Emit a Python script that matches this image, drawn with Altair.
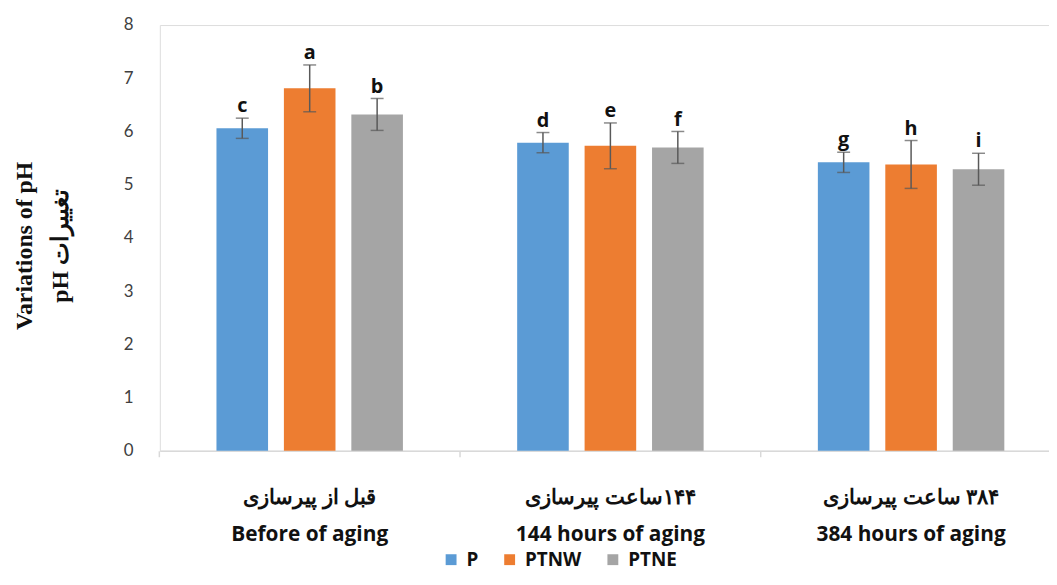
import altair as alt
import pandas as pd

RLM = "\u200f"
groups = ["قبل از پیرسازی|Before of aging",
          RLM + "۱۴۴ساعت پیرسازی|144 hours of aging",
          RLM + "۳۸۴ ساعت پیرسازی|384 hours of aging"]
series = ["P", "PTNW", "PTNE"]
colors = ["#5B9BD5", "#ED7D31", "#A5A5A5"]

p_vals = [6.06, 5.79, 5.42]
p_err = [0.19, 0.19, 0.19]
ptnw_vals = [6.81, 5.73, 5.38]
ptnw_err = [0.44, 0.43, 0.45]
ptne_vals = [6.32, 5.70, 5.29]
ptne_err = [0.30, 0.30, 0.30]
letters_p = ["c", "d", "g"]
letters_ptnw = ["a", "e", "h"]
letters_ptne = ["b", "f", "i"]

rows = []
for s, vals, errs, lets in [("P", p_vals, p_err, letters_p),
                            ("PTNW", ptnw_vals, ptnw_err, letters_ptnw),
                            ("PTNE", ptne_vals, ptne_err, letters_ptne)]:
    for g, v, e, l in zip(groups, vals, errs, lets):
        rows.append({"group": g, "series": s, "value": v,
                     "lo": v - e, "hi": v + e, "letter": l})
df = pd.DataFrame(rows)

x_scale = alt.Scale(paddingInner=0.327, paddingOuter=0.142, align=0.57)
x_enc = alt.X("group:N", sort=groups, scale=x_scale,
              axis=alt.Axis(title=None, labelAngle=0, labelLimit=400,
                            labelExpr="split(datum.label, '|')",
                            labelFont="Open Sans", labelFontSize=21, labelFontWeight="bold",
                            labelColor="#111111", labelLineHeight=37, labelPadding=30,
                            domainColor="#D9D9D9", domainWidth=1.5,
                            tickColor="#D9D9D9", tickSize=6, tickWidth=1.5,
                            bandPosition=-0.241))
xo_enc = alt.XOffset("series:N", sort=series,
                     scale=alt.Scale(paddingInner=0.235, paddingOuter=0.118))

base = alt.Chart(df)

bars = base.mark_bar().encode(
    x=x_enc, xOffset=xo_enc,
    y=alt.Y("value:Q", scale=alt.Scale(domain=[0, 8]),
            axis=alt.Axis(values=list(range(0, 9)), grid=False, domain=False,
                          ticks=False, labelFont="Lato", labelFontSize=17,
                          labelColor="#404040", labelPadding=27,
                          title=["Variations of pH", "pH تغییرات"],
                          titleFont="Liberation Serif", titleFontSize=24,
                          titleFontWeight="bold", titleColor="#111111",
                          titleAngle=-90, titleX=-129, titleY=222,
                          titleAlign="center", titleBaseline="alphabetic",
                          titleLineHeight=36)),
    color=alt.Color("series:N", sort=series,
                    scale=alt.Scale(domain=series, range=colors),
                    legend=alt.Legend(title=None, orient="none", direction="horizontal",
                                      legendX=284, legendY=529,
                                      symbolType="square", symbolSize=120,
                                      symbolStrokeWidth=0,
                                      labelFont="Open Sans", labelFontSize=19,
                                      labelFontWeight="bold", labelColor="#111111",
                                      columnPadding=22, labelOffset=6))
)

rules = base.mark_rule(color="#595959", strokeWidth=1.5).encode(
    x=x_enc, xOffset=xo_enc, y="lo:Q", y2="hi:Q")

ticks_hi = base.mark_tick(color="#595959", thickness=1.5, size=13, orient="horizontal").encode(
    x=x_enc, xOffset=xo_enc, y="hi:Q")
ticks_lo = base.mark_tick(color="#595959", thickness=1.5, size=13, orient="horizontal").encode(
    x=x_enc, xOffset=xo_enc, y="lo:Q")

labels = base.mark_text(font="Open Sans", fontSize=20, fontWeight="bold", color="#111111",
                        baseline="bottom", dy=-2).encode(
    x=x_enc, xOffset=xo_enc, y="hi:Q", text="letter:N")

chart = alt.layer(bars, rules, ticks_hi, ticks_lo, labels).properties(
    width=896, height=429,
    padding={"left": 153, "top": 15, "right": 0, "bottom": 120},
    autosize=alt.AutoSizeParams(type="none"),
).configure_view(stroke="#5B9BD5", strokeWidth=1.5).configure(background="white")

chart.save("out.html", embed_options={"renderer": "svg", "actions": False})
